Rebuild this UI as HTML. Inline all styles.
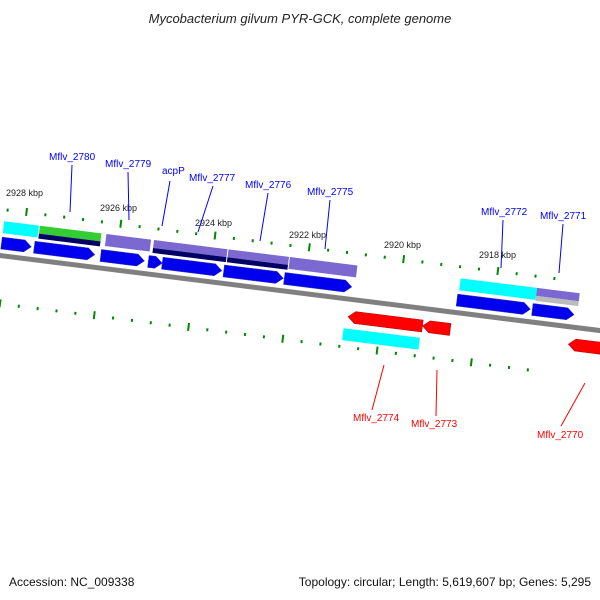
<!DOCTYPE html>
<html><head><meta charset="utf-8"><style>
body{margin:0;background:#fff}
svg{display:block;font-family:"Liberation Sans",sans-serif}
</style></head><body>
<svg id="map" width="600" height="600" viewBox="0 0 600 600">
<text x="300" y="23" text-anchor="middle" font-size="13" font-style="italic" fill="#222">Mycobacterium gilvum PYR-GCK, complete genome</text>
<g id="rot" transform="rotate(7.13,0,255)">
<rect x="-20" y="-2" width="680" height="5" transform="translate(0,255)" fill="#808080"/>
</g>
<g id="labels"></g>
<text x="9" y="586" font-size="12" fill="#111">Accession: NC_009338</text>
<text x="591" y="586" text-anchor="end" font-size="12" fill="#111">Topology: circular; Length: 5,619,607 bp; Genes: 5,295</text>
</svg>
<script>
const NS="http://www.w3.org/2000/svg";
const fwdCDS=[[0,30],[33,94],[100,144],[148,162],[162,222],[224,284],[285,353],[459,533],[535,577]];
const fwdFeat=[[0,35,"#00ffff",null],[36,98,"#33cc33","#000066"],[103,148,"#7b68d0",null],[151,225,"#7b68d0","#000066"],[226,287,"#7b68d0","#000066"],[288,356,"#7b68d0",null],[460,537,"#00ffff",null],[537,580,"#7b68d0","#bbbbbb"]];
const revCDS=[[353,428],[428,456],[575,620]];
const revFeat=[[350,427,"#00ffff"]];
const kbpLabels=["2928 kbp","2926 kbp","2924 kbp","2922 kbp","2920 kbp","2918 kbp"];
const kbpPos=[[6,196],[100,211],[195,226],[289,238],[384,248],[479,258]];
const geneNames=["Mflv_2780","Mflv_2779","acpP","Mflv_2777","Mflv_2776","Mflv_2775","Mflv_2772","Mflv_2771","Mflv_2774","Mflv_2773","Mflv_2770"];
const geneLab=[[49,160,72,165,70,212,"b"],[105,167,128,172,129,220,"b"],[162,174,170,181,162,226,"b"],[189,181,213,186,198,232,"b"],[245,188,268,193,260,241,"b"],[307,195,330,200,325,249,"b"],[481,215,503,220,501,268,"b"],[540,219,563,224,559,273,"b"],[353,421,384,365,372,410,"r"],[411,427,437,370,436,416,"r"],[537,438,585,383,561,426,"r"]];
const rot=document.getElementById("rot"),lab=document.getElementById("labels");
function mk(p,t,a){const e=document.createElementNS(NS,t);for(const k in a)e.setAttribute(k,a[k]);p.appendChild(e);return e;}
const B=255;
fwdCDS.forEach(([a,b])=>{const y=B-18,h=12,tip=Math.min(7,(b-a)/2);
const e=mk(rot,"polygon",{points:`${a},${y} ${b-tip},${y} ${b},${y+h/2} ${b-tip},${y+h} ${a},${y+h}`,fill:"#0000ee",stroke:"#3333aa","stroke-width":0.5});

});
fwdFeat.forEach(([a,b,c,s])=>{const y=B-34;
const e=mk(rot,"rect",{x:a,y:y,width:b-a,height:s?8:12,fill:c});


if(s){const f=mk(rot,"rect",{x:a,y:y+8,width:b-a,height:5,fill:s});

}});
revCDS.forEach(([a,b])=>{const y=B+12,h=12,tip=7;
const e=mk(rot,"polygon",{points:`${a},${y+h/2} ${a+tip},${y} ${b},${y} ${b},${y+h} ${a+tip},${y+h}`,fill:"#ff0000",stroke:"#aa0000","stroke-width":0.5});

});
revFeat.forEach(([a,b,c])=>{const e=mk(rot,"rect",{x:a,y:B+30,width:b-a,height:12,fill:c});

});
for(let i=0;i<34;i++){const x=21-95+i*19,maj=(i%5===0);
const e=mk(rot,"rect",{x:x-1,y:B-(maj?50:47),width:2,height:maj?8:3,fill:"#008800"});


const f=mk(rot,"rect",{x:x-16,y:B+(maj?44:47),width:2,height:maj?8:3,fill:"#008800"});

}
kbpLabels.forEach((t,i)=>{const e=mk(lab,"text",{x:kbpPos[i][0],y:kbpPos[i][1],"font-size":9,fill:"#222"});e.textContent=t;

});
geneNames.forEach((n,i)=>{const [tx,ty,x1,y1,x2,y2,c]=geneLab[i];const col=c==="b"?"#0000ff":"#ff0000";
const l=mk(lab,"line",{x1,y1,x2,y2,stroke:col,"stroke-width":1});


const e=mk(lab,"text",{x:tx,y:ty,"font-size":10,fill:col});e.textContent=n;

});
</script>
</body></html>
